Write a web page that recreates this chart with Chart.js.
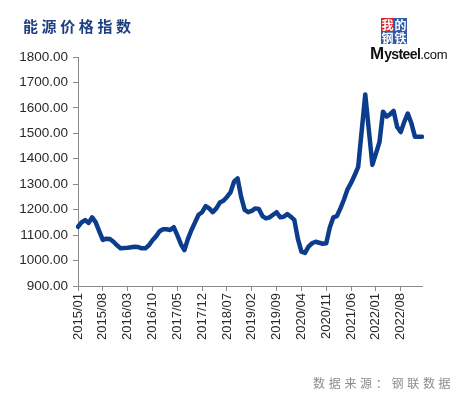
<!DOCTYPE html>
<html>
<head>
<meta charset="utf-8">
<script src="https://cdn.jsdelivr.net/npm/chart.js@4/dist/chart.umd.min.js"></script>
<style>
html,body{margin:0;padding:0;background:#fff;}
#wrap{position:relative;width:458px;height:397px;overflow:hidden;background:#fff;}
#c{position:absolute;left:0;top:0;}
.title{position:absolute;left:23px;top:17px;font-family:"Noto Sans CJK SC";font-weight:bold;font-size:15px;line-height:18px;color:#1d3f80;letter-spacing:3.6px;white-space:nowrap;}
.foot{position:absolute;left:313px;top:375px;font-family:"Noto Sans CJK SC";font-size:12px;line-height:15px;color:#8c8c8c;letter-spacing:3.7px;white-space:nowrap;}
.b{position:absolute;width:13px;height:13px;background:#2f5ca8;color:#fff;font-family:"Noto Sans CJK SC";font-weight:bold;font-size:12px;line-height:13px;text-align:center;}
.b.r{background:#d9262c;}
.ms{position:absolute;left:370px;top:45px;font-family:"Liberation Sans";font-weight:bold;color:#111;white-space:nowrap;line-height:18px;}
.ms .m{font-size:17px;}
.ms .y{font-size:14px;letter-spacing:-0.6px;}
.ms .d{font-size:13px;font-weight:normal;letter-spacing:-0.3px;}
</style>
</head>
<body>
<div id="wrap">
<canvas id="c" width="458" height="397"></canvas>
<div class="title">能源价格指数</div>
<div class="b r" style="left:381px;top:18px">我</div>
<div class="b" style="left:394px;top:18px">的</div>
<div class="b" style="left:381px;top:31px">钢</div>
<div class="b" style="left:394px;top:31px">铁</div>
<div class="ms"><span class="m">M</span><span class="y">ysteel</span><span class="d">.com</span></div>
<div class="foot">数据来源：钢联数据</div>
</div>
<script>
// Monthly energy price index, 2015/01 - 2023/02
const startYear = 2015;
const startMonth = 1;
const energyIndex = [
  1133, 1150, 1159, 1148, 1170, 1150, 1115, 1081, 1086, 1085, 1074, 1060,
  1048, 1049, 1050, 1052, 1054, 1053, 1048, 1048, 1060, 1080, 1095, 1115,
  1123, 1123, 1120, 1131, 1100, 1065, 1041, 1085, 1120, 1150, 1180, 1190,
  1214, 1205, 1190, 1205, 1228, 1235, 1250, 1268, 1310, 1323, 1250, 1199,
  1190, 1195, 1205, 1203, 1175, 1166, 1170, 1180, 1190, 1170, 1172, 1183,
  1172, 1160, 1085, 1035, 1030, 1055, 1068, 1074, 1070, 1066, 1068, 1130,
  1170, 1175, 1205, 1240, 1280, 1305, 1335, 1368, 1510, 1653, 1515, 1376,
  1420, 1465, 1585, 1566, 1575, 1588, 1525, 1505, 1545, 1578, 1540, 1487,
  1487, 1487
];
const labelEvery = 7;
const yMin = 900, yMax = 1800, yStep = 100;

const months = [];
for (let i = 0; i < energyIndex.length; i++) {
  const m0 = startMonth - 1 + i;
  const y = startYear + Math.floor(m0 / 12);
  const m = (m0 % 12) + 1;
  months.push(y + '/' + (m < 10 ? '0' + m : '' + m));
}

const axisGray = '#8a8a8a';
const tickFont = {family: 'Liberation Sans', size: 13};

new Chart(document.getElementById('c').getContext('2d'), {
  type: 'line',
  data: {
    labels: months,
    datasets: [{
      data: energyIndex,
      borderColor: '#0c3d8d',
      borderWidth: 4.5,
      pointRadius: 0,
      tension: 0,
      fill: false,
      borderJoinStyle: 'round',
      borderCapStyle: 'round'
    }]
  },
  options: {
    responsive: false,
    animation: false,
    devicePixelRatio: 1,
    layout: {padding: {top: 57, right: 36, left: 0, bottom: 0}},
    plugins: {legend: {display: false}, tooltip: {enabled: false}},
    scales: {
      x: {
        offset: false,
        grid: {
          display: true,
          drawOnChartArea: false,
          tickLength: 5,
          tickColor: (c) => (c.index % labelEvery === 0 ? axisGray : 'rgba(0,0,0,0)')
        },
        border: {color: axisGray, width: 1},
        ticks: {
          autoSkip: false,
          minRotation: 90,
          maxRotation: 90,
          padding: 2,
          color: '#2a2a2a',
          font: tickFont,
          callback: (v, i) => (i % labelEvery === 0 ? months[i] : '')
        },
        afterFit: (s) => { s.height = 111; }
      },
      y: {
        min: yMin,
        max: yMax,
        grid: {display: true, drawOnChartArea: false, tickLength: 5, tickColor: axisGray},
        border: {color: axisGray, width: 1},
        ticks: {
          stepSize: yStep,
          padding: 5,
          color: '#2a2a2a',
          font: {family: 'Liberation Sans', size: 13.5},
          callback: (v) => Number(v).toFixed(2)
        },
        afterFit: (s) => { s.width = 78; }
      }
    }
  }
});
</script>
</body>
</html>
